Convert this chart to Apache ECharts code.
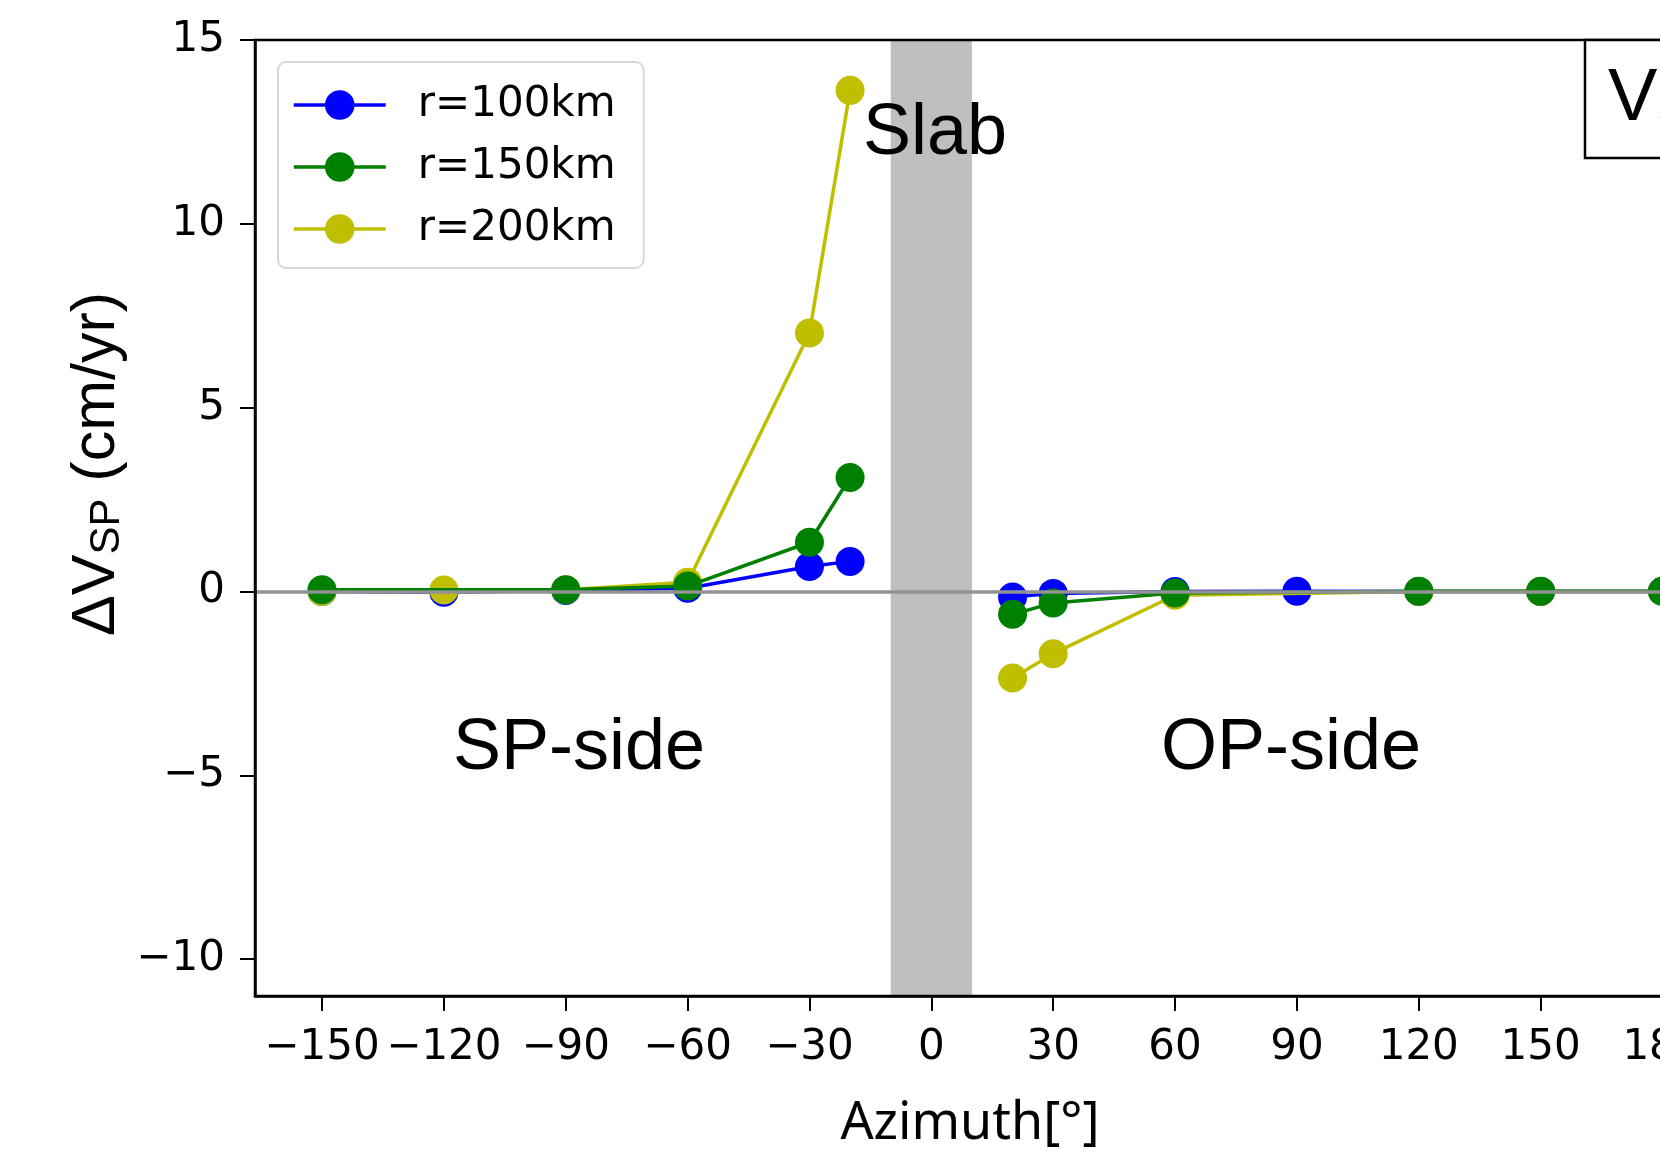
<!DOCTYPE html>
<html>
<head>
<meta charset="utf-8">
<script src="https://cdn.jsdelivr.net/npm/echarts@6/dist/echarts.min.js"></script>
<style>html,body{margin:0;padding:0;background:#fff;}#c{width:1660px;height:1167px;}</style>
</head>
<body>
<div id="c"></div>
<script>
// ---- data ----
var azimuth = [-150, -120, -90, -60, -30, -20, 20, 30, 60, 90, 120, 150, 180];
var r100 = [0.0, -0.02, 0.03, 0.09, 0.68, 0.82, -0.15, -0.05, 0.0, 0.01, 0.0, 0.0, 0.0];
var r150 = [0.05, null, 0.05, 0.15, 1.34, 3.10, -0.62, -0.31, -0.04, null, 0.01, 0.01, 0.01];
var r200 = [0.0, 0.04, 0.05, 0.25, 7.03, 13.63, -2.35, -1.69, -0.10, null, 0.0, 0.0, 0.0];
var seriesNames = ['r=100km', 'r=150km', 'r=200km'];
var xTicks = [-150, -120, -90, -60, -30, 0, 30, 60, 90, 120, 150, 180];
var yTicks = [-10, -5, 0, 5, 10, 15];
var slabRange = [-10, 10];

function pairs(vals) {
  var out = [];
  var broke = false;
  for (var i = 0; i < azimuth.length; i++) {
    if (!broke && azimuth[i] > 0) { out.push([0, null]); broke = true; }
    if (vals[i] === null) continue;
    out.push([azimuth[i], vals[i]]);
  }
  return out;
}
function fmt(v) { return String(v).replace('-', '\u2212'); }

var chart = echarts.init(document.getElementById('c'), null, {renderer: 'canvas'});
var tickFont = {fontFamily: 'DejaVu Sans', fontSize: 42, color: '#000'};

function lineSeries(name, vals, color, z) {
  return {
    name: name, type: 'line', data: pairs(vals), z: z,
    symbol: 'circle', symbolSize: 29, showSymbol: true,
    lineStyle: {color: color, width: 3.5},
    itemStyle: {color: color},
    connectNulls: false, animation: false, silent: true
  };
}

chart.setOption({
  animation: false,
  grid: {left: 255, top: 40, width: 1474.5, height: 956, show: true, borderColor: '#000', borderWidth: 2.5, backgroundColor: 'transparent', z: 10, outerBoundsMode: 'none', containLabel: false},
  xAxis: {
    type: 'value', min: -166.5, max: 196.5, z: 10,
    axisLine: {show: true, onZero: false, lineStyle: {color: '#000', width: 2.5}},
    axisTick: {show: true, inside: false, length: 15, lineStyle: {color: '#000', width: 2}, customValues: xTicks},
    axisLabel: Object.assign({margin: 31, customValues: xTicks, formatter: fmt}, tickFont),
    splitLine: {show: false}
  },
  yAxis: {
    type: 'value', min: -11, max: 15, z: 10,
    axisLine: {show: true, onZero: false, lineStyle: {color: '#000', width: 2.5}},
    axisTick: {show: true, inside: false, length: 15, lineStyle: {color: '#000', width: 2}, customValues: yTicks},
    axisLabel: Object.assign({margin: 30, customValues: yTicks, formatter: fmt}, tickFont),
    splitLine: {show: false}
  },
  legend: {
    data: seriesNames, orient: 'vertical', left: 278, top: 62,
    padding: [20, 28, 16, 14], itemGap: 16, itemWidth: 92, itemHeight: 37,
    backgroundColor: 'rgba(255,255,255,0.8)', borderColor: '#d6d6d6', borderWidth: 2, borderRadius: 8,
    lineStyle: {width: 3.5},
    textStyle: {fontFamily: 'DejaVu Sans', fontSize: 42, lineHeight: 42, color: '#000', padding: [4, 0, 0, 27]},
    selectedMode: false, z: 20
  },
  series: [
    {
      name: 'band', type: 'line', data: [], z: 1, silent: true,
      markArea: {silent: true, itemStyle: {color: '#bfbfbf', opacity: 1}, data: [[{xAxis: slabRange[0]}, {xAxis: slabRange[1]}]]},
      markLine: {silent: true, symbol: ['none', 'none'], label: {show: false}, lineStyle: {color: '#929292', width: 3.5, type: 'solid'}, data: [{yAxis: 0}]}
    },
    lineSeries(seriesNames[0], r100, '#0000ff', 2),
    lineSeries(seriesNames[2], r200, '#bfbf00', 3),
    lineSeries(seriesNames[1], r150, '#008000', 4)
  ],
  graphic: [
    {type: 'text', x: 863, y: 134, z: 30, style: {text: 'Slab', fontFamily: 'Liberation Sans', fontSize: 72, fill: '#000', align: 'left', verticalAlign: 'middle'}},
    {type: 'text', x: 453, y: 749, z: 30, style: {text: 'SP-side', fontFamily: 'Liberation Sans', fontSize: 72, fill: '#000', align: 'left', verticalAlign: 'middle'}},
    {type: 'text', x: 1161, y: 749, z: 30, style: {text: 'OP-side', fontFamily: 'Liberation Sans', fontSize: 72, fill: '#000', align: 'left', verticalAlign: 'middle'}},
    {type: 'text', x: 970, y: 1124, z: 30, style: {text: 'Azimuth[°]', fontFamily: 'Noto Sans', fontSize: 52, fill: '#000', align: 'center', verticalAlign: 'middle'}},
    {type: 'text', x: 94, y: 464, rotation: Math.PI / 2, z: 30, style: {
      text: '{m|ΔV}{s|SP}{m| (cm/yr)}', align: 'center', verticalAlign: 'middle', fill: '#000',
      rich: {m: {fontFamily: 'Liberation Sans', fontSize: 61, fill: '#000', verticalAlign: 'bottom', lineHeight: 68},
             s: {fontFamily: 'Liberation Sans', fontSize: 42, fill: '#000', verticalAlign: 'bottom', lineHeight: 56}}
    }},
    {type: 'rect', z: 30, shape: {x: 1585, y: 40, width: 200, height: 118}, style: {fill: '#fff', stroke: '#000', lineWidth: 2.5}},
    {type: 'text', x: 1608, y: 97, z: 31, style: {
      text: '{m|V}{s|SP}', align: 'left', verticalAlign: 'middle', fill: '#000',
      rich: {m: {fontFamily: 'Liberation Sans', fontSize: 74, fill: '#000', verticalAlign: 'bottom', lineHeight: 80},
             s: {fontFamily: 'Liberation Sans', fontSize: 50, fill: '#000', verticalAlign: 'bottom', lineHeight: 62}}
    }}
  ]
});
</script>
</body>
</html>
